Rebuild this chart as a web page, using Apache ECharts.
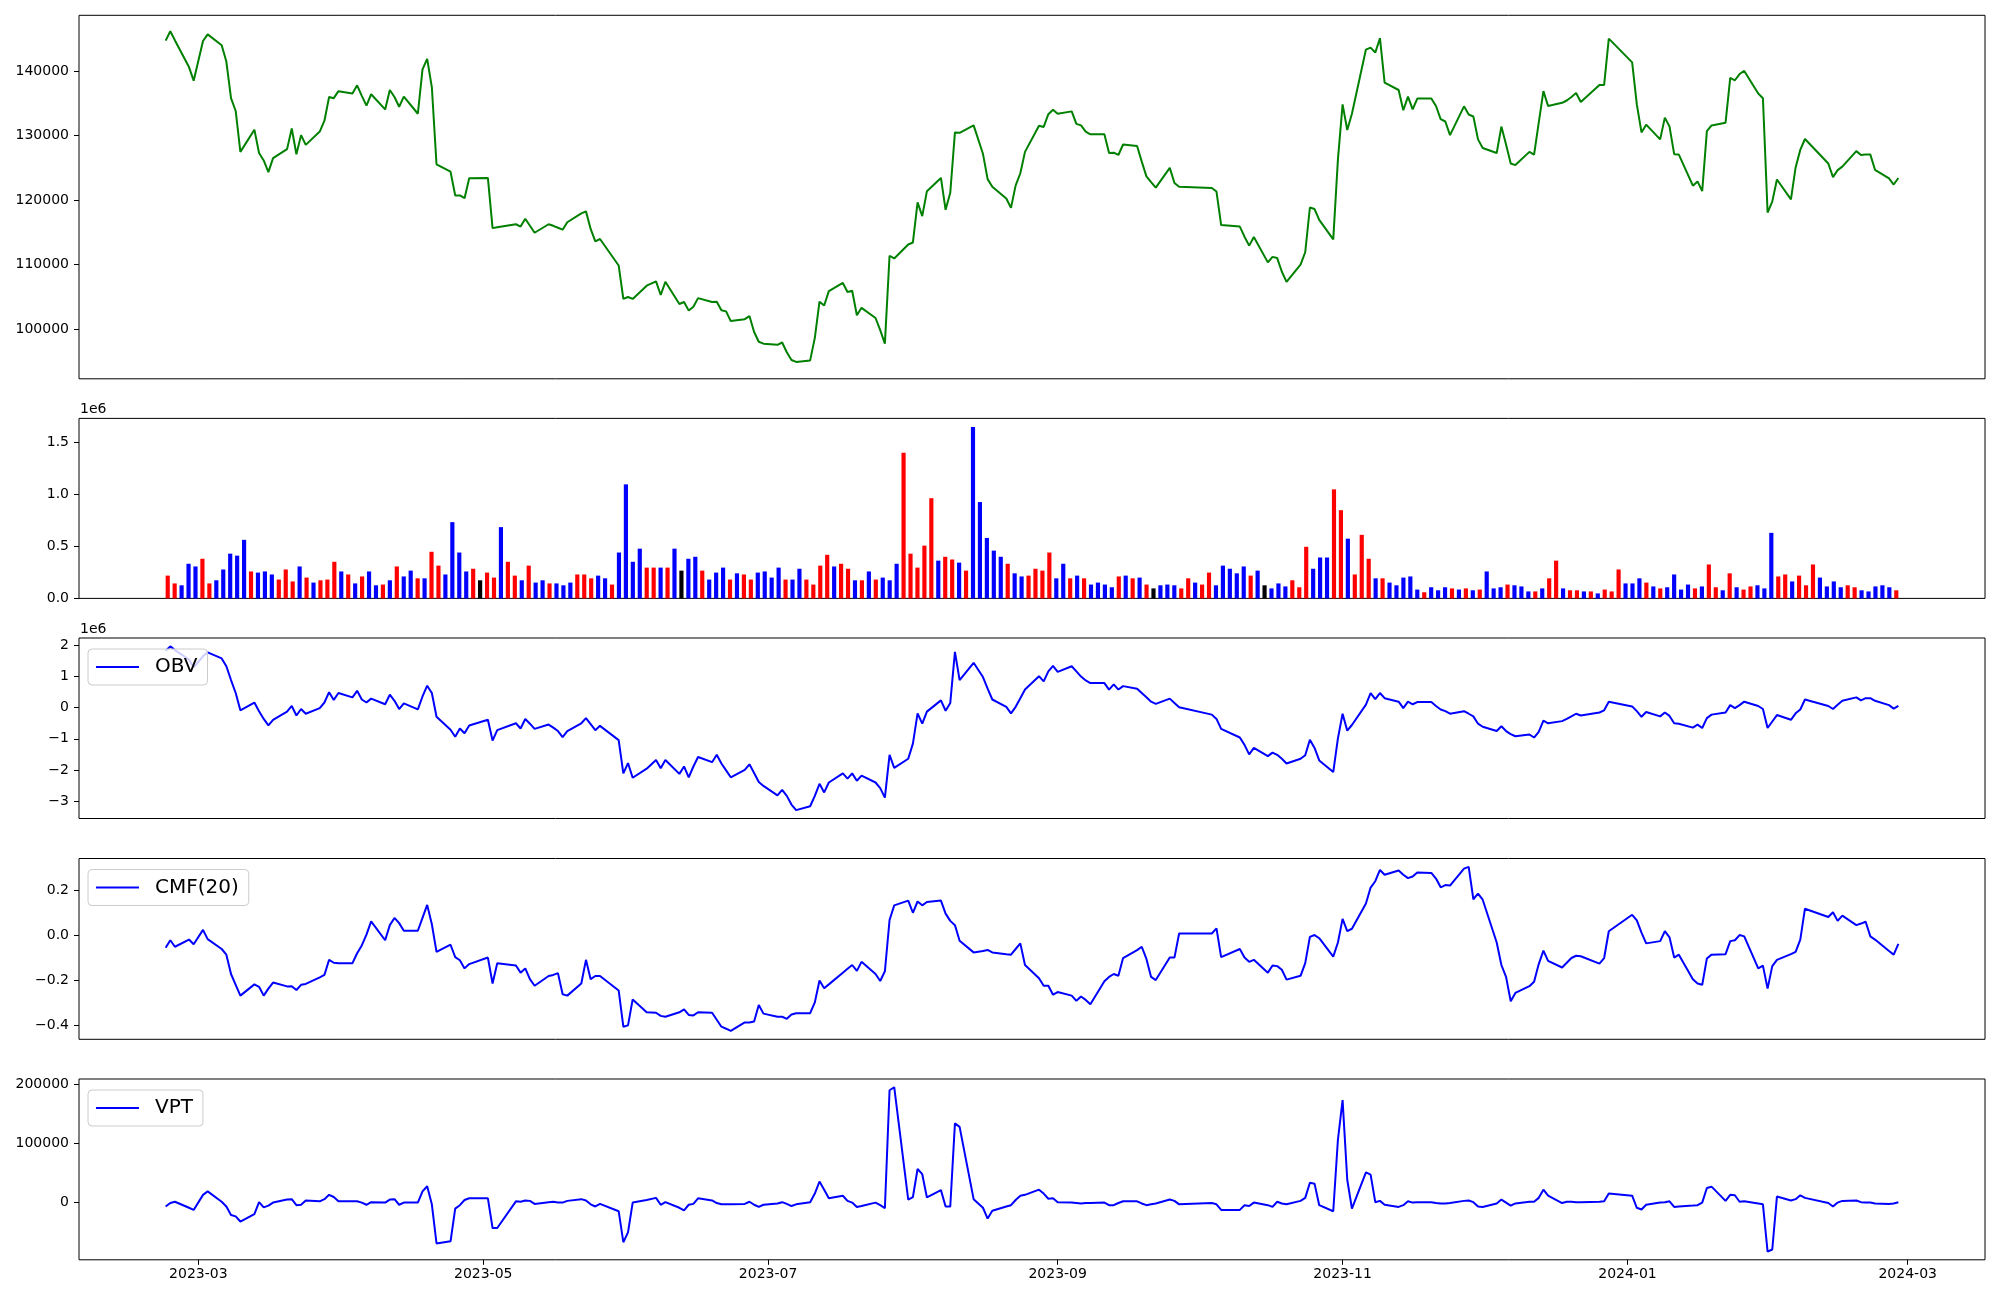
<!DOCTYPE html>
<html>
<head>
<meta charset="utf-8">
<script src="https://cdn.jsdelivr.net/npm/echarts@6/dist/echarts.min.js"></script>
<style>
html,body{margin:0;padding:0;background:#fff;}
#chart{width:2000px;height:1300px;}
</style>
</head>
<body>
<div id="chart"></div>
<script>
// ---------- categories ----------
const START_DATE = [2023, 2, 22];
const END_DATE = [2024, 2, 28];
const HOLIDAYS = ['2023-03-01','2023-05-01','2023-05-05','2023-05-29','2023-06-06','2023-08-15',
  '2023-09-28','2023-09-29','2023-10-02','2023-10-03','2023-10-09','2023-12-25','2023-12-29',
  '2024-01-01','2024-02-09','2024-02-12'];
const X_TICKS = ['2023-03-01','2023-05-01','2023-07-01','2023-09-01','2023-11-01','2024-01-01','2024-03-01'];

// ---------- series values ----------
const price = [
144770,146220,144800,140660,138550,144710,145740,144050,141510,135830,
133840,127490,130940,127310,126160,124350,126530,127920,131120,127130,
130090,128580,130640,132330,136010,135830,136920,136560,137820,136190,
134680,136440,134080,137100,136010,134500,136070,133410,140300,141930,
137520,125560,124410,120730,120730,120300,123380,123440,115650,115770,
116250,115890,117100,116010,114930,116250,116010,115710,115410,116560,
117950,118250,115530,113600,113960,109850,104650,104960,104650,106710,
107370,105260,107310,103870,104170,102840,103450,104780,104170,104230,
102900,102720,101210,101510,101990,99520,98010,97710,97530,97890,
96380,95170,94870,95110,98610,104230,103630,105860,107130,105740,
105920,102120,103270,101690,99820,97710,111360,110940,113110,113420,
119640,117520,121390,123440,118490,121150,130510,130450,131600,127190,
123260,122060,120240,118790,122290,124170,127490,131540,131360,133350,
134020,133410,133780,131840,131600,130630,130210,130210,127310,127370,
127010,128640,128400,125980,123690,122780,121930,125010,122660,122060,
121870,121330,116130,115890,114320,112930,114260,110330,111180,111000,
108880,107310,109970,111900,118850,118610,116920,113900,126280,134860,
130880,133410,143380,143690,142900,145140,138250,137100,133960,136070,
134080,135770,135770,134620,132570,132210,130090,134560,133290,132990,
129430,128100,127310,131420,128640,125680,125440,127490,127070,132020,
136920,134620,135110,135470,136010,136620,135230,137890,137890,145080,
141390,134860,130510,131720,129430,132810,131420,127130,127070,122240,
122900,121390,130700,131600,132020,138970,138610,139580,140060,136560,
135830,118070,119760,123200,120120,125080,127800,129490,125680,123570,
124650,125200,127610,127010,127070,127070,124710,123380,122420,123440];

const volume = [
219000,144000,126000,333000,307000,381000,144000,174000,278000,430000,
411000,563000,259000,248000,259000,230000,181000,278000,163000,307000,
200000,152000,174000,181000,352000,259000,230000,144000,211000,259000,
126000,133000,174000,307000,211000,267000,193000,193000,448000,315000,
230000,733000,441000,259000,285000,174000,248000,200000,685000,352000,
219000,174000,315000,152000,174000,144000,144000,126000,152000,230000,
230000,193000,219000,193000,133000,441000,1096000,352000,478000,296000,
296000,296000,296000,478000,267000,381000,400000,267000,181000,248000,
296000,181000,241000,230000,181000,248000,259000,200000,296000,181000,
181000,285000,181000,133000,315000,419000,307000,333000,285000,174000,
174000,259000,181000,200000,174000,333000,1400000,430000,296000,507000,
963000,363000,400000,374000,344000,267000,1648000,926000,581000,459000,
400000,333000,241000,211000,219000,285000,267000,441000,193000,333000,
193000,219000,193000,133000,152000,133000,107000,211000,219000,193000,
200000,133000,96000,126000,133000,126000,96000,193000,152000,133000,
248000,126000,315000,285000,241000,307000,219000,267000,126000,96000,
144000,115000,174000,107000,496000,285000,393000,393000,1048000,848000,
574000,230000,611000,381000,193000,193000,152000,126000,200000,211000,
85000,59000,107000,78000,107000,96000,85000,96000,78000,85000,
259000,96000,107000,133000,126000,115000,67000,67000,96000,193000,
363000,96000,78000,78000,67000,67000,48000,85000,67000,278000,
144000,144000,193000,152000,115000,96000,107000,230000,85000,133000,
96000,115000,326000,107000,78000,241000,107000,85000,115000,126000,
96000,630000,211000,230000,163000,219000,126000,326000,200000,115000,
163000,107000,126000,107000,78000,67000,115000,126000,107000,78000];

// bar colour per day: r = red, b = blue, k = black
const volumeColorCodes =
 'rrbbbrrbbb' + 'bbrbbbrrrb' + 'rbrrrbrbrb' + 'brbrbbrbrr' + 'bbbbrkrrbr' +
 'rbrbbrbbbr' + 'rrbbrbbbbr' + 'rbrbkbbrbb' + 'brbrrbbbbr' + 'bbrrrrbrrb' +
 'rbrbbbrrrr' + 'rbrrbrbbbb' + 'brbbrrrrbb' + 'rbrbbbbrbr' + 'brkbbbrrbr' +
 'rbbbbbrbkb' + 'bbrrrbbbrr' + 'brrrbrbbbb' + 'brbbbrbrbr' + 'bbbrbbbrbr' +
 'rbrrbrbrrr' + 'bbbrbrbbbb' + 'rbrrbrbrrb' + 'bbrrbrrrbb' + 'bbrrbbbbbr';

const obv = [
1830000,1970000,1850000,1550000,1300000,1650000,1780000,1583000,1333000,889000,
472000,-83000,167000,-111000,-361000,-569000,-389000,-125000,56000,-250000,
-42000,-194000,-14000,167000,500000,250000,472000,333000,542000,264000,
167000,292000,111000,417000,222000,-42000,139000,-56000,361000,708000,
472000,-292000,-708000,-931000,-667000,-819000,-569000,-389000,-1056000,-722000,
-500000,-667000,-361000,-514000,-681000,-542000,-639000,-750000,-944000,-750000,
-500000,-333000,-528000,-722000,-583000,-1042000,-2111000,-1778000,-2250000,-1958000,
-1681000,-1944000,-1681000,-2125000,-1889000,-2236000,-1889000,-1583000,-1750000,-1514000,
-1792000,-2014000,-2236000,-2000000,-1819000,-2097000,-2389000,-2514000,-2819000,-2639000,
-2833000,-3111000,-3292000,-3167000,-2833000,-2444000,-2722000,-2403000,-2111000,-2278000,
-2111000,-2347000,-2181000,-2403000,-2583000,-2889000,-1514000,-1931000,-1639000,-1153000,
-181000,-514000,-125000,236000,-97000,153000,1792000,889000,1444000,986000,
611000,264000,28000,-181000,28000,306000,583000,1014000,847000,1167000,
1347000,1153000,1333000,1167000,1000000,875000,792000,792000,583000,750000,
583000,694000,611000,472000,333000,194000,125000,292000,153000,14000,
-222000,-361000,-681000,-958000,-1194000,-1500000,-1292000,-1556000,-1444000,-1514000,
-1639000,-1792000,-1639000,-1528000,-1028000,-1292000,-1694000,-2069000,-986000,-194000,
-736000,-556000,97000,472000,278000,472000,306000,194000,-14000,194000,
111000,181000,181000,56000,-56000,-111000,-194000,-111000,-194000,-278000,
-514000,-611000,-750000,-597000,-750000,-847000,-917000,-861000,-958000,-778000,
-417000,-500000,-431000,-361000,-278000,-194000,-250000,-153000,-83000,194000,
42000,-111000,-292000,-139000,-278000,-153000,-264000,-500000,-514000,-639000,
-542000,-653000,-333000,-222000,-153000,83000,-14000,83000,194000,56000,
-42000,-653000,-444000,-236000,-389000,-181000,-56000,264000,56000,-42000,
97000,222000,333000,236000,306000,306000,222000,83000,-28000,56000];

const cmf = [
-0.055,-0.022,-0.051,-0.019,-0.040,0.024,-0.017,-0.061,-0.086,-0.172,
-0.220,-0.268,-0.218,-0.229,-0.268,-0.237,-0.210,-0.227,-0.226,-0.243,
-0.220,-0.216,-0.187,-0.176,-0.109,-0.122,-0.124,-0.124,-0.080,-0.045,
0.003,0.062,-0.022,0.045,0.077,0.054,0.020,0.020,0.077,0.135,
0.049,-0.074,-0.042,-0.097,-0.111,-0.147,-0.128,-0.099,-0.214,-0.124,
-0.134,-0.166,-0.147,-0.195,-0.224,-0.181,-0.176,-0.168,-0.262,-0.268,
-0.214,-0.109,-0.195,-0.181,-0.181,-0.245,-0.406,-0.400,-0.285,-0.342,
-0.344,-0.358,-0.362,-0.342,-0.329,-0.354,-0.356,-0.342,-0.344,-0.375,
-0.406,-0.415,-0.425,-0.387,-0.387,-0.383,-0.310,-0.348,-0.362,-0.362,
-0.371,-0.352,-0.346,-0.346,-0.298,-0.201,-0.235,-0.218,-0.166,-0.149,
-0.132,-0.158,-0.118,-0.172,-0.203,-0.160,0.068,0.133,0.154,0.100,
0.150,0.133,0.148,0.154,0.096,0.064,0.045,-0.024,-0.076,-0.070,
-0.065,-0.076,-0.084,-0.086,-0.061,-0.036,-0.132,-0.191,-0.224,-0.224,
-0.264,-0.252,-0.268,-0.291,-0.272,-0.287,-0.306,-0.204,-0.185,-0.172,
-0.180,-0.101,-0.066,-0.051,-0.105,-0.185,-0.199,-0.099,-0.099,0.008,
0.008,0.031,-0.097,-0.061,-0.099,-0.118,-0.109,-0.166,-0.134,-0.137,
-0.153,-0.197,-0.180,-0.124,-0.007,0.001,-0.013,-0.095,-0.032,0.073,
0.018,0.029,0.141,0.212,0.240,0.290,0.269,0.288,0.269,0.254,
0.261,0.279,0.277,0.252,0.213,0.223,0.221,0.296,0.304,0.160,
0.185,0.158,-0.032,-0.132,-0.185,-0.293,-0.256,-0.226,-0.206,-0.128,
-0.068,-0.114,-0.143,-0.122,-0.101,-0.091,-0.093,-0.126,-0.101,0.018,
0.091,0.066,0.012,-0.036,-0.026,0.018,-0.009,-0.099,-0.086,-0.195,
-0.214,-0.220,-0.103,-0.086,-0.084,-0.026,-0.022,0.001,-0.005,-0.147,
-0.135,-0.237,-0.137,-0.109,-0.084,-0.074,-0.019,0.118,0.081,0.102,
0.064,0.087,0.045,0.052,0.060,-0.005,-0.019,-0.070,-0.086,-0.038];

const vpt = [
-6570,-730,1460,-8760,-12410,13140,18980,1460,-6570,-21170,
-23360,-32120,-19710,730,-8030,-5110,0,5110,5840,-4380,
-3650,3650,2190,5840,13140,9490,2190,2190,2190,0,
-3650,730,0,5110,5840,-3650,0,0,18980,27740,
-2920,-69350,-65700,-10220,-4380,4380,7300,7300,-43070,-43070,
2190,1460,3650,2920,-2190,730,1460,0,0,2920,
5840,3650,-2920,-6570,-2190,-14600,-67160,-50370,0,4380,
8030,-3650,730,-8760,-13140,-3650,-2190,7300,3650,-730,
-2920,-2920,-2920,-2190,1460,-3650,-7300,-3650,-1460,730,
-2190,-5840,-2920,730,15330,35770,21900,7300,11680,2920,
0,-7300,-5840,0,-4380,-9490,190530,195640,5110,9490,
56940,48180,8760,21170,-6570,-6570,134320,128480,5840,-8760,
-27010,-13870,-6570,-4380,4380,11680,13140,21900,15330,6570,
7300,730,0,-730,-1460,-730,-730,0,-4380,-4380,
-730,2190,2190,-1460,-4380,-2920,-1460,5110,2920,-2920,
-730,-2920,-12410,-12410,-4380,-5840,0,-4380,-7300,1460,
-1460,-2920,2920,8030,33580,32120,-4380,-14600,106580,173740,
38690,-10220,51100,47450,730,2920,-3650,-7300,-4380,2190,
0,730,730,-730,-1460,-1460,-730,2920,3650,730,
-6570,-7300,-1460,5110,0,-5110,-1460,1460,1460,8030,
21900,11680,-730,1460,1460,730,730,1460,2190,15330,
11680,-8760,-11680,-3650,0,730,2190,-7300,-6570,-5110,
-4380,0,24820,27010,2920,13140,12410,1460,2190,-1460,
-2920,-83220,-79570,10220,3650,5840,12410,8030,-730,-6570,
0,2920,3650,730,0,0,-1460,-2190,-1460,730];

// ---------- tick labels ----------
const PRICE_TICKS = [100000,110000,120000,130000,140000];
const VOLUME_TICKS = [0,500000,1000000,1500000];
const OBV_TICKS = [-3000000,-2000000,-1000000,0,1000000,2000000];
const CMF_TICKS = [-0.4,-0.2,0,0.2];
const VPT_TICKS = [0,100000,200000];

// ---------- build ----------
function pad2(n){return (n<10?'0':'')+n;}
function key(d){return d.getFullYear()+'-'+pad2(d.getMonth()+1)+'-'+pad2(d.getDate());}
function ts(s){const p=s.split('-').map(Number);return new Date(p[0],p[1]-1,p[2]).getTime();}
const dates=[];
(function(){
  let cur=new Date(START_DATE[0],START_DATE[1]-1,START_DATE[2]);
  const end=new Date(END_DATE[0],END_DATE[1]-1,END_DATE[2]);
  while(cur<=end){
    const wd=cur.getDay();
    if(wd!==0&&wd!==6&&HOLIDAYS.indexOf(key(cur))<0) dates.push(cur.getTime());
    cur=new Date(cur.getFullYear(),cur.getMonth(),cur.getDate()+1);
  }
})();
if(dates.length!==price.length) console.error('date count',dates.length,price.length);

const DAY=86400000;
const spanDays=(dates[dates.length-1]-dates[0])/DAY;
const xMin=dates[0]-spanDays*0.05*DAY;
const xMax=dates[dates.length-1]+spanDays*0.05*DAY;
// volume panel is laid out by bar position (one slot per trading day)
const BAR_W=0.6;
const nBars=volume.length;
const barSpan=(nBars-1)+BAR_W;
const vMin=-BAR_W/2-barSpan*0.05;
const vMax=(nBars-1)+BAR_W/2+barSpan*0.05;

const COLORS={r:'#ff0000',b:'#0000ff',k:'#000000'};
const FONT='DejaVu Sans';
const minus=s=>String(s).replace('-','\u2212');

const gridDefs=[
  {top:15.3, height:363.5},
  {top:418.4, height:180},
  {top:638, height:180.5},
  {top:858.5, height:180.8},
  {top:1079, height:180.8}
];
const PLOT_W=1906;
const grids=gridDefs.map(g=>({left:79,width:PLOT_W,top:g.top,height:g.height,show:true,
  borderColor:'#000',borderWidth:1,backgroundColor:'transparent',containLabel:false}));

const xTickVals=X_TICKS.map(ts);
const xAxes=gridDefs.map((g,i)=>({
  type:'value',gridIndex:i,min:i===1?vMin:xMin,max:i===1?vMax:xMax,scale:true,
  axisLine:{show:false,onZero:false},splitLine:{show:false},
  axisTick:{show:i===4,length:5,lineStyle:{color:'#000',width:1},customValues:xTickVals},
  axisLabel:{show:i===4,customValues:xTickVals,color:'#000',fontSize:14,fontFamily:FONT,margin:8,
    formatter:v=>{const d=new Date(v);return d.getFullYear()+'-'+pad2(d.getMonth()+1);}}
}));

function yAx(i,min,max,ticks,fmt){
  return {type:'value',gridIndex:i,min:min,max:max,
    axisLine:{show:false,onZero:false},splitLine:{show:false},
    axisTick:{show:true,length:5,lineStyle:{color:'#000',width:1},customValues:ticks},
    axisLabel:{customValues:ticks,color:'#000',fontSize:14,fontFamily:FONT,margin:10,formatter:fmt}};
}
const yAxes=[
  yAx(0,92250,148700,PRICE_TICKS,v=>String(v)),
  yAx(1,0,1730000,VOLUME_TICKS,v=>(v/1e6).toFixed(1)),
  yAx(2,-3560000,2240000,OBV_TICKS,v=>minus(Math.round(v/1e6))),
  yAx(3,-0.462,0.341,CMF_TICKS,v=>minus((Math.abs(v)<1e-9?0:v).toFixed(1))),
  yAx(4,-97000,209600,VPT_TICKS,v=>minus(v))
];

const pair=arr=>arr.map((v,i)=>[dates[i],v]);
const volData=volume.map((v,i)=>({value:[i,v],itemStyle:{color:COLORS[volumeColorCodes[i]]}}));
const barPx=BAR_W/(vMax-vMin)*PLOT_W;

function legendFor(name,top){
  return {data:[name],left:88,top:top,orient:'horizontal',selectedMode:false,
    icon:'rect',itemWidth:43,itemHeight:2.2,
    padding:[8,10,8,8],borderColor:'#cccccc',borderWidth:1,borderRadius:4,
    backgroundColor:'rgba(255,255,255,0.8)',
    textStyle:{fontSize:20,fontFamily:FONT,color:'#000',padding:[0,0,0,11]}};
}

const option={
  animation:false,
  backgroundColor:'#fff',
  textStyle:{fontFamily:FONT},
  grid:grids,
  xAxis:xAxes,
  yAxis:yAxes,
  legend:[legendFor('OBV',649),legendFor('CMF(20)',869.5),legendFor('VPT',1090)],
  graphic:[
    {type:'text',left:80,top:402,style:{text:'1e6',font:'14px "DejaVu Sans"',fill:'#000'}},
    {type:'text',left:80,top:622,style:{text:'1e6',font:'14px "DejaVu Sans"',fill:'#000'}}
  ],
  series:[
    {name:'Close',type:'line',xAxisIndex:0,yAxisIndex:0,data:pair(price),showSymbol:false,
      lineStyle:{color:'#008000',width:2},itemStyle:{color:'#008000'}},
    {name:'Volume',type:'bar',xAxisIndex:1,yAxisIndex:1,data:volData,barWidth:barPx},
    {name:'OBV',type:'line',xAxisIndex:2,yAxisIndex:2,data:pair(obv),showSymbol:false,
      lineStyle:{color:'#0000ff',width:2},itemStyle:{color:'#0000ff'}},
    {name:'CMF(20)',type:'line',xAxisIndex:3,yAxisIndex:3,data:pair(cmf),showSymbol:false,
      lineStyle:{color:'#0000ff',width:2},itemStyle:{color:'#0000ff'}},
    {name:'VPT',type:'line',xAxisIndex:4,yAxisIndex:4,data:pair(vpt),showSymbol:false,
      lineStyle:{color:'#0000ff',width:2},itemStyle:{color:'#0000ff'}}
  ]
};
const chart=echarts.init(document.getElementById('chart'),null,{renderer:'canvas'});
chart.setOption(option);
</script>
</body>
</html>
